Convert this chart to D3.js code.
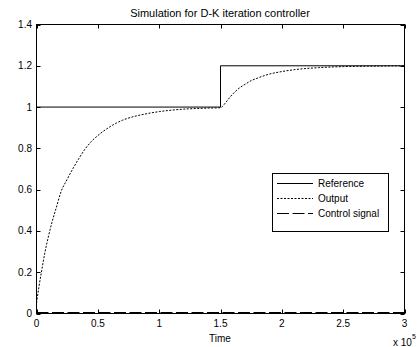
<!DOCTYPE html>
<html>
<head>
<meta charset="utf-8">
<script src="https://cdn.jsdelivr.net/npm/d3@7"></script>
<style>
  body { margin: 0; background: #fff; }
  svg { display: block; }
  text { font-family: "Liberation Sans", Arial, sans-serif; fill: #000; }
</style>
</head>
<body>
<svg id="chart" width="417" height="347"></svg>
<script>
// values (time in units of 1e5)
const xTicks = [0, 0.5, 1, 1.5, 2, 2.5, 3];
const yTicks = [0, 0.2, 0.4, 0.6, 0.8, 1, 1.2, 1.4];

const refTime = [0, 1.5, 1.5, 3];
const refValue = [1, 1, 1.2, 1.2];

const outTime = [0, 0.02, 0.04, 0.07, 0.1, 0.13, 0.16, 0.2, 0.25, 0.3, 0.35, 0.4, 0.45, 0.5, 0.55, 0.6, 0.65, 0.7, 0.8, 0.9, 1.0, 1.1, 1.2, 1.3, 1.4, 1.5,
                 1.54, 1.58, 1.62, 1.66, 1.7, 1.75, 1.8, 1.9, 2.0, 2.1, 2.2, 2.3, 2.4, 2.5, 2.7, 3.0];
const outValue = [0.05, 0.13, 0.2, 0.3, 0.38, 0.45, 0.51, 0.59, 0.65, 0.705, 0.755, 0.8, 0.835, 0.862, 0.885, 0.905, 0.922, 0.936, 0.955, 0.968, 0.978, 0.985, 0.99, 0.993, 0.995, 0.997,
                  1.02, 1.05, 1.075, 1.095, 1.11, 1.128, 1.14, 1.16, 1.172, 1.181, 1.187, 1.191, 1.194, 1.196, 1.198, 1.2];

const ctrlTime = [0, 3];
const ctrlValue = [0.004, 0.004];

const legendNames = ['Reference', 'Output', 'Control signal'];

const svg = d3.select('#chart');

const x = d3.scaleLinear().domain([0, 3]).range([36.5, 404.5]);
const y = d3.scaleLinear().domain([0, 1.4]).range([313.5, 24.5]);

// ticks pointing inward on all four sides
const tickLen = 4;
const ticks = svg.append('g').attr('stroke', '#000').attr('stroke-width', 1);
xTicks.forEach(t => {
    ticks.append('line').attr('x1', Math.round(x(t)) + 0.5).attr('x2', Math.round(x(t)) + 0.5)
        .attr('y1', y(0)).attr('y2', y(0) - tickLen);
    ticks.append('line').attr('x1', Math.round(x(t)) + 0.5).attr('x2', Math.round(x(t)) + 0.5)
        .attr('y1', y(1.4)).attr('y2', y(1.4) + tickLen);
});
yTicks.forEach(v => {
    ticks.append('line').attr('x1', x(0)).attr('x2', x(0) + tickLen)
        .attr('y1', Math.round(y(v)) + 0.5).attr('y2', Math.round(y(v)) + 0.5);
    ticks.append('line').attr('x1', x(3)).attr('x2', x(3) - tickLen)
        .attr('y1', Math.round(y(v)) + 0.5).attr('y2', Math.round(y(v)) + 0.5);
});

svg.append('g').selectAll('text')
    .data(xTicks)
    .enter()
    .append('text')
    .attr('x', d => x(d))
    .attr('y', 327)
    .attr('text-anchor', 'middle')
    .attr('font-size', 10)
    .text(d => d);

svg.append('g').selectAll('text')
    .data(yTicks)
    .enter()
    .append('text')
    .attr('x', 32)
    .attr('y', d => y(d) + 3.5)
    .attr('text-anchor', 'end')
    .attr('font-size', 10)
    .text(d => d);

const line = d3.line()
    .x(d => x(d[0]))
    .y(d => y(d[1]));

const refData = refTime.map((t, i) => [t, refValue[i]]);
const outData = outTime.map((t, i) => [t, outValue[i]]);
const ctrlData = ctrlTime.map((t, i) => [t, ctrlValue[i]]);

svg.append('path')
    .attr('d', line(refData))
    .attr('fill', 'none')
    .attr('stroke', '#000')
    .attr('stroke-width', 1);

svg.append('path')
    .attr('d', line.curve(d3.curveMonotoneX)(outData))
    .attr('fill', 'none')
    .attr('stroke', '#000')
    .attr('stroke-width', 1)
    .attr('stroke-dasharray', '2,1.5');

line.curve(d3.curveLinear);

// frame
svg.append('rect')
    .attr('x', x(0)).attr('y', y(1.4))
    .attr('width', x(3) - x(0)).attr('height', y(0) - y(1.4))
    .attr('fill', 'none')
    .attr('stroke', '#000');

svg.append('path')
    .attr('d', line(ctrlData))
    .attr('fill', 'none')
    .attr('stroke', '#000')
    .attr('stroke-width', 1.5)
    .attr('stroke-dasharray', '12,3.5');

// title and labels
svg.append('text')
    .attr('x', 220).attr('y', 17)
    .attr('text-anchor', 'middle')
    .attr('font-size', 11)
    .text('Simulation for D-K iteration controller');

svg.append('text')
    .attr('x', 220).attr('y', 342)
    .attr('text-anchor', 'middle')
    .attr('font-size', 10)
    .text('Time');

const expo = svg.append('text')
    .attr('x', 393).attr('y', 346)
    .attr('font-size', 10);
expo.append('tspan').text('x 10');
expo.append('tspan').attr('dy', -7).attr('font-size', 7).text('5');

// legend
const legend = svg.append('g');
legend.append('rect')
    .attr('x', 272.5).attr('y', 173.5)
    .attr('width', 116).attr('height', 58)
    .attr('fill', '#fff')
    .attr('stroke', '#000');

const dashes = [null, '2,1.5', '12,3.5'];
legendNames.forEach((name, i) => {
    const ly = 183.5 + i * 15;
    legend.append('line')
        .attr('x1', 277).attr('x2', 313)
        .attr('y1', ly).attr('y2', ly)
        .attr('stroke', '#000')
        .attr('stroke-dasharray', dashes[i]);
    legend.append('text')
        .attr('x', 318).attr('y', ly + 3.5)
        .attr('font-size', 10)
        .text(name);
});
</script>
</body>
</html>
